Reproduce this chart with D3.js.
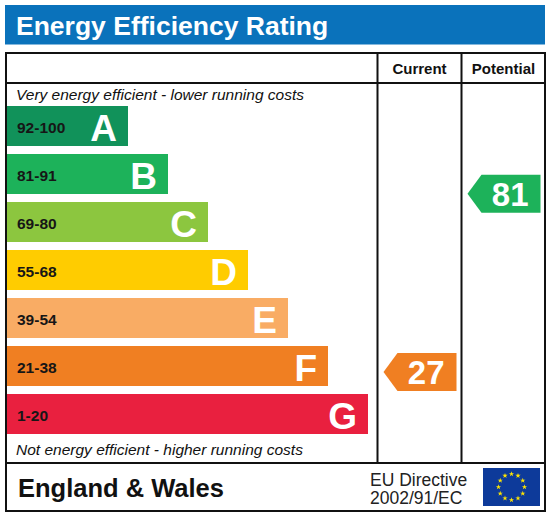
<!DOCTYPE html>
<html>
<head>
<meta charset="utf-8">
<script src="https://cdn.jsdelivr.net/npm/d3@7"></script>
<style>
  body { margin: 0; background: #fff; }
  svg { display: block; font-family: "Liberation Sans", Arial, sans-serif; }
</style>
</head>
<body>
<div id="chart"></div>
<script>
const bands = ['A', 'B', 'C', 'D', 'E', 'F', 'G'];
const ranges = ['92-100', '81-91', '69-80', '55-68', '39-54', '21-38', '1-20'];
const ratings = [
  { column: 'Current', value: 27, band: 'F' },
  { column: 'Potential', value: 81, band: 'B' },
];
const columns = ['Current', 'Potential'];
const directive = ['EU Directive', '2002/91/EC'];

const width = 550;
const height = 517;

const colour = d3.scaleOrdinal()
  .domain(bands)
  .range(['#11925a', '#1db25a', '#8cc63f', '#ffcc00', '#f9ac64', '#f07f22', '#e9203f']);

// bar rows
const y = d3.scaleBand().domain(bands).range([106, 434]).paddingInner(1 / 6);
// right end of each bar
const xEnd = d3.scaleLinear().domain([0, bands.length - 1]).range([128, 368]);
// rating -> vertical centre of the arrow
const ratingY = d3.scaleLinear().domain([100, 1]).range([131, 458]);
// columns on the right
const colX = d3.scaleBand().domain(columns).range([377.5, 545.5]);

const svg = d3.select('#chart')
  .append('svg')
  .attr('width', width)
  .attr('height', height)
  .attr('viewBox', `0 0 ${width} ${height}`);

// title band
svg.append('rect')
  .attr('x', 5).attr('y', 5)
  .attr('width', 540).attr('height', 39.5)
  .attr('fill', '#0a72bb');
svg.append('text')
  .attr('x', 16).attr('y', 35)
  .attr('fill', '#fff')
  .attr('font-size', 26.5)
  .attr('font-weight', 'bold')
  .text('Energy Efficiency Rating');

// table frame
const frame = svg.append('g')
  .attr('stroke', '#111')
  .attr('stroke-width', 2)
  .attr('fill', 'none');
frame.append('rect').attr('x', 6).attr('y', 53).attr('width', 539).attr('height', 458);
frame.append('line').attr('x1', 6).attr('x2', 545).attr('y1', 83).attr('y2', 83);
frame.append('line').attr('x1', 6).attr('x2', 545).attr('y1', 463).attr('y2', 463);
frame.selectAll('line.col')
  .data(columns)
  .join('line')
  .attr('class', 'col')
  .attr('x1', (d) => colX(d)).attr('x2', (d) => colX(d))
  .attr('y1', 53).attr('y2', 463);

// column headers
svg.selectAll('text.head')
  .data(columns)
  .join('text')
  .attr('class', 'head')
  .attr('x', (d) => colX(d) + colX.bandwidth() / 2)
  .attr('y', 74)
  .attr('text-anchor', 'middle')
  .attr('font-size', 15)
  .attr('font-weight', 'bold')
  .attr('fill', '#111')
  .text((d) => d);

svg.append('text')
  .attr('x', 16).attr('y', 100)
  .attr('font-size', 15.5)
  .attr('font-style', 'italic')
  .attr('fill', '#111')
  .text('Very energy efficient - lower running costs');

svg.append('text')
  .attr('x', 16).attr('y', 455)
  .attr('font-size', 15.5)
  .attr('font-style', 'italic')
  .attr('fill', '#111')
  .text('Not energy efficient - higher running costs');

// bars
const rows = svg.append('g')
  .selectAll('g')
  .data(bands)
  .join('g');

rows.append('rect')
  .attr('x', 7)
  .attr('y', (d) => y(d))
  .attr('width', (d, i) => xEnd(i) - 7)
  .attr('height', y.bandwidth())
  .attr('fill', (d) => colour(d));

rows.append('text')
  .attr('x', 17)
  .attr('y', (d) => y(d) + 26.5)
  .attr('font-size', 15.5)
  .attr('font-weight', 'bold')
  .attr('fill', '#161616')
  .text((d, i) => ranges[i]);

rows.append('text')
  .attr('x', (d, i) => xEnd(i) - 11)
  .attr('y', (d) => y(d) + 35)
  .attr('text-anchor', 'end')
  .attr('font-size', 37)
  .attr('font-weight', 'bold')
  .attr('fill', '#fff')
  .text((d) => d);

// rating arrows
const arrows = svg.append('g')
  .selectAll('g')
  .data(ratings)
  .join('g')
  .attr('transform', (d) => `translate(${colX(d.column) + colX.bandwidth() - 5},${ratingY(d.value)})`);

arrows.append('path')
  .attr('d', 'M-73,0 L-59,-19 L0,-19 L0,19 L-59,19 Z')
  .attr('fill', (d) => colour(d.band));

arrows.append('text')
  .attr('x', -12)
  .attr('y', 12)
  .attr('text-anchor', 'end')
  .attr('font-size', 33)
  .attr('font-weight', 'bold')
  .attr('fill', '#fff')
  .text((d) => d.value);

// footer
svg.append('text')
  .attr('x', 18).attr('y', 497)
  .attr('font-size', 25.5)
  .attr('font-weight', 'bold')
  .attr('fill', '#111')
  .text('England & Wales');

svg.selectAll('text.eu')
  .data(directive)
  .join('text')
  .attr('class', 'eu')
  .attr('x', 370)
  .attr('y', (d, i) => 485.5 + i * 18.5)
  .attr('font-size', 17.5)
  .attr('fill', '#222')
  .text((d) => d);

// EU flag
svg.append('rect')
  .attr('x', 483).attr('y', 468)
  .attr('width', 57).attr('height', 38)
  .attr('fill', '#0d3a9a');

const star = d3.symbol().type(d3.symbolStar).size(9);
svg.append('g')
  .attr('transform', 'translate(511.5,487)')
  .selectAll('path')
  .data(d3.range(12))
  .join('path')
  .attr('d', star)
  .attr('fill', '#ffe500')
  .attr('transform', (i) => {
    const a = (i / 12) * 2 * Math.PI;
    return `translate(${13 * Math.sin(a)},${-13 * Math.cos(a)})`;
  });
</script>
</body>
</html>
